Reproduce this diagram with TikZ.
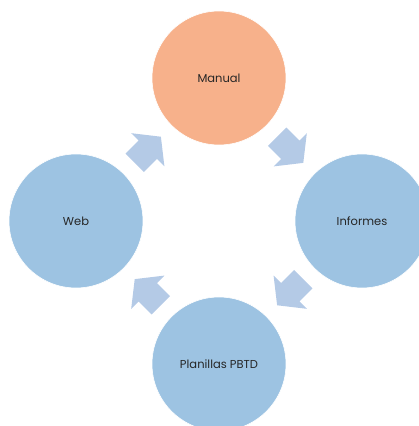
\documentclass[tikz,border=0pt]{standalone}
\usepackage{fontspec}
\usepackage{xcolor}
\usepackage{tikz}
\newfontfamily\cyclefont{Poppins}

\definecolor{manualorange}{HTML}{F7B18B}
\definecolor{stepblue}{HTML}{9DC3E2}
\definecolor{flowblue}{HTML}{B4CAE6}
\definecolor{labelgray}{HTML}{262626}

\begin{document}
\begin{tikzpicture}[x=1pt, y=1pt,
  hub/.style={circle, fill=stepblue, draw=white, line width=0.6pt, minimum size=134pt, inner sep=0pt, text=labelgray, font=\cyclefont\fontsize{11.5}{13}\selectfont},
  pics/flow/.style={code={\fill[flowblue] (-18.5,13) -- (0,13) -- (0,23.5) -- (18.5,0) -- (0,-23.5) -- (0,-13) -- (-18.5,-13) -- cycle;}}]
\useasboundingbox (0,0) rectangle (418,426);
\node[hub, fill=manualorange] (man) at (219,348) {Manual};
\node[hub] (inf) at (362,205) {Informes};
\node[hub] (pla) at (219,62) {Planillas PBTD};
\node[hub] (web) at (76,205) {Web};
% flechas del ciclo
\pic[rotate=45] (f1) at (147.8,276.2) {flow};
\pic[rotate=-45] (f2) at (290.2,276.2) {flow};
\pic[rotate=-135] (f3) at (290.2,133.8) {flow};
\pic[rotate=135] (f4) at (147.8,133.8) {flow};
\end{tikzpicture}
\end{document}
